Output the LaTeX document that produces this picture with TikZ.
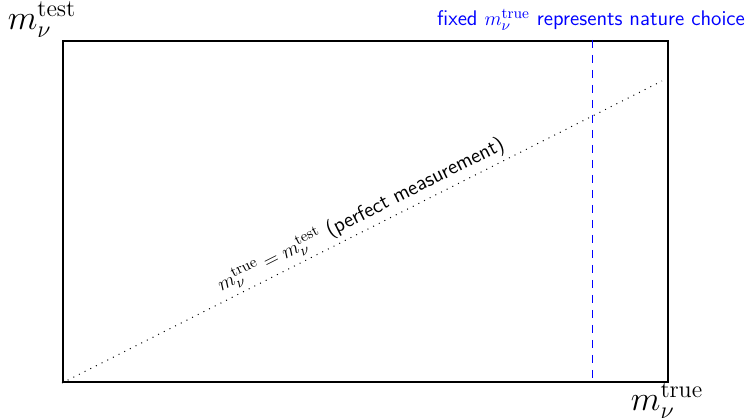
\documentclass[tikz,border=0pt]{standalone}
\begin{document}
\begin{tikzpicture}[x=0.6pt,y=-0.6pt,
  frame/.style={draw=black,line width=1.2pt},
  diag/.style={line width=0.6pt,dash pattern=on 0.6pt off 3.2pt},
  fixline/.style={blue,line width=0.55pt,dash pattern=on 4.8pt off 4.2pt},
  axlabel/.style={font=\fontsize{21}{24}\selectfont,inner sep=0pt},
  note/.style={font=\sffamily\fontsize{12.7}{15}\selectfont,inner sep=0pt}]
\useasboundingbox (0,0) rectangle (748,419);
\node[frame,minimum width=605*0.6pt,minimum height=341*0.6pt,anchor=north west,inner sep=0pt] (box) at (62,40) {};
\coordinate (o) at (box.south west);
\coordinate (e) at (662,81);
\coordinate (dt) at (592,40);
\coordinate (db) at (592,381);
\draw[diag] (o) -- (e) node[pos=0.51,sloped,above=2.5pt,note] (lbl) {$m_\nu^{\rm true}=m_\nu^{\rm test}$ (perfect measurement)};
\draw[fixline] (dt) -- (db);
\node[axlabel] (ytest) at (42,20) {$m_\nu^{\rm test}$};
\node[axlabel] (xtrue) at (667,401) {$m_\nu^{\rm true}$};
\node[note,text=blue] (fix) at (591,20) {fixed $m_\nu^{\rm true}$ represents nature choice};
\end{tikzpicture}
\end{document}
